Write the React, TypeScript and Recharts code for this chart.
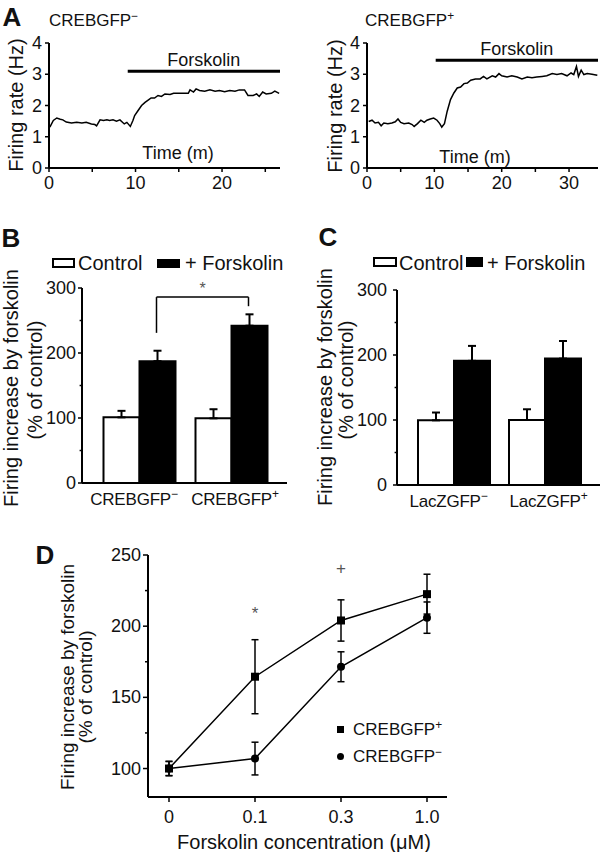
import React from "react";
import {
  Bar,
  BarChart,
  ErrorBar,
  Line,
  LineChart,
  ReferenceDot,
  ReferenceLine,
  XAxis,
  YAxis,
} from "recharts";

// ---- Panel A: firing-rate traces (time in min, rate in Hz)
const timeMinus = [0.1, 0.5, 0.9, 1.3, 1.6, 2.0, 2.6, 3.2, 3.8, 4.3, 4.9, 5.3, 5.5, 5.9, 6.3, 6.7, 7.0, 7.4, 7.8, 8.2, 8.7, 9.0, 9.4, 9.7, 9.9, 10.3, 10.7, 11.1, 11.5, 11.8, 12.2, 12.6, 13.0, 13.4, 14.0, 14.4, 14.9, 15.5, 16.1, 16.3, 16.7, 17.0, 17.4, 18.0, 18.6, 19.2, 19.7, 20.3, 20.9, 21.5, 22.0, 22.6, 23.0, 23.6, 24.0, 24.3, 24.7, 25.1, 25.7, 26.1, 26.6];
const rateMinus = [1.31, 1.52, 1.6, 1.56, 1.54, 1.47, 1.44, 1.46, 1.44, 1.46, 1.41, 1.39, 1.35, 1.54, 1.52, 1.54, 1.52, 1.54, 1.5, 1.54, 1.41, 1.46, 1.33, 1.52, 1.68, 1.84, 2.0, 2.1, 2.18, 2.24, 2.24, 2.32, 2.29, 2.37, 2.35, 2.39, 2.39, 2.39, 2.39, 2.5, 2.43, 2.53, 2.48, 2.46, 2.5, 2.46, 2.48, 2.44, 2.48, 2.46, 2.5, 2.5, 2.32, 2.32, 2.37, 2.29, 2.43, 2.37, 2.39, 2.46, 2.39];
const timePlus = [0.25, 0.75, 1.2, 1.7, 2.1, 2.5, 3.1, 3.7, 4.2, 4.6, 5.0, 5.5, 6.2, 6.7, 7.0, 7.5, 8.0, 8.5, 8.9, 9.4, 9.9, 10.4, 10.8, 11.1, 11.5, 11.9, 12.4, 12.9, 13.4, 13.9, 14.4, 14.9, 15.4, 16.1, 16.8, 17.3, 17.8, 18.6, 19.1, 19.6, 20.0, 20.8, 21.5, 22.3, 23.0, 23.8, 24.5, 25.2, 26.0, 26.7, 27.5, 28.2, 28.9, 29.7, 30.3, 30.7, 31.1, 31.4, 31.8, 32.2, 32.7, 33.4, 34.2];
const ratePlus = [1.49, 1.53, 1.44, 1.46, 1.35, 1.44, 1.42, 1.44, 1.48, 1.57, 1.46, 1.42, 1.44, 1.39, 1.33, 1.42, 1.53, 1.46, 1.53, 1.57, 1.6, 1.53, 1.42, 1.31, 1.42, 1.81, 2.19, 2.4, 2.56, 2.59, 2.7, 2.72, 2.81, 2.85, 2.85, 2.93, 2.85, 2.95, 2.91, 3.02, 2.95, 2.91, 2.95, 2.91, 2.85, 2.91, 2.89, 2.91, 2.93, 2.95, 3.02, 2.99, 3.02, 2.95, 3.04, 2.99, 3.25, 2.93, 3.13, 2.99, 3.02, 3.0, 2.97];
const forskolinMinus = { start: 9.1, end: 26.7, level: 3.1 };
const forskolinPlus = { start: 10.2, end: 34.3, level: 3.45 };

// ---- Panel B: CREB groups (% of control)
const crebNames = ["CREBGFP−", "CREBGFP+"];
const crebControl = [101, 99.5];
const crebControlSem = [10, 14];
const crebForsk = [187.5, 242];
const crebForskSem = [16, 17.5];
const crebBracket = { top: 286, leftLeg: 231, rightLeg: 272, star: 300 };

// ---- Panel C: LacZ groups
const laczNames = ["LacZGFP−", "LacZGFP+"];
const laczControl = [99.5, 100];
const laczControlSem = [12, 16.5];
const laczForsk = [191, 194.5];
const laczForskSem = [23, 27];

// ---- Panel D: dose response
const concLabels = ["0", "0.1", "0.3", "1.0"];
const plusMean = [100, 164.5, 204, 222.5];
const plusSem = [5, 26, 14.5, 14];
const minusMean = [100, 107, 171.5, 206];
const minusSem = [5, 11.5, 10.5, 11];
const doseMarks = [
  { c: "0.1", y: 209, mark: "*" },
  { c: "0.3", y: 241, mark: "+" },
];

const FONT = '"Liberation Sans", Arial, Helvetica, sans-serif';
const AX = { stroke: "#000", strokeWidth: 2 };

const traceMinus = timeMinus.map((t, i) => ({ t, f: rateMinus[i] }));
const tracePlus = timePlus.map((t, i) => ({ t, f: ratePlus[i] }));

const groupRows = (names: string[], c: number[], cs: number[], f: number[], fs: number[]) =>
  names.map((name, i) => ({
    name,
    ctrl: c[i],
    ctrlErr: [0, cs[i]],
    forsk: f[i],
    forskErr: [0, fs[i]],
  }));

const crebRows = groupRows(crebNames, crebControl, crebControlSem, crebForsk, crebForskSem);
const laczRows = groupRows(laczNames, laczControl, laczControlSem, laczForsk, laczForskSem);

const doseRows = concLabels.map((c, i) => ({
  c,
  plus: plusMean[i],
  plusErr: plusSem[i],
  minus: minusMean[i],
  minusErr: minusSem[i],
}));

function yTick(every: number, len: number, gap: number, size: number) {
  return (p: any) => {
    const v = Number(p.payload.value);
    const major = Math.abs(v / every - Math.round(v / every)) < 1e-6;
    return (
      <g key={`y${v}`}>
        <line x1={p.x} x2={p.x - (major ? len : len * 0.6)} y1={p.y} y2={p.y} stroke="#000" strokeWidth={1.5} />
        {major ? (
          <text x={p.x - len - gap} y={p.y} textAnchor="end" dominantBaseline="central" fontSize={size} fill="#111">
            {v}
          </text>
        ) : null}
      </g>
    );
  };
}

function xTickNum(every: number) {
  return (p: any) => {
    const v = Number(p.payload.value);
    const major = v % every === 0;
    return (
      <g key={`x${v}`}>
        <line x1={p.x} x2={p.x} y1={p.y} y2={p.y + 4} stroke="#000" strokeWidth={1.5} />
        {major ? (
          <text x={p.x} y={p.y + 15} textAnchor="middle" dominantBaseline="central" fontSize={18} fill="#111">
            {v}
          </text>
        ) : null}
      </g>
    );
  };
}

function catTick(p: any) {
  const s = String(p.payload.value);
  const first = p.index === 0;
  return (
    <text
      key={s}
      x={p.x + (first ? -5 : 4)}
      y={p.y + 22}
      textAnchor="middle"
      fontSize={17}
      letterSpacing={-0.2}
      fill="#111"
    >
      {s.slice(0, -1)}
      <tspan dy={-7} fontSize={12}>
        {s.slice(-1)}
      </tspan>
    </text>
  );
}

function doseTick(p: any) {
  return (
    <g key={p.payload.value}>
      <line x1={p.x} x2={p.x} y1={p.y} y2={p.y + 5} stroke="#000" strokeWidth={1.5} />
      <text x={p.x} y={p.y + 20} textAnchor="middle" dominantBaseline="central" fontSize={18} fill="#111">
        {p.payload.value}
      </text>
    </g>
  );
}

const squareDot = (p: any) => (
  <rect key={`sq${p.index}`} x={p.cx - 4} y={p.cy - 4} width={8} height={8} fill="#000" />
);

type TxtProps = {
  x: number;
  y: number;
  size?: number;
  rot?: number;
  bold?: boolean;
  anchor?: "start" | "middle";
  color?: string;
  children: React.ReactNode;
};

function Txt({ x, y, size = 18, rot = 0, bold = false, anchor = "middle", color = "#111", children }: TxtProps) {
  const tx = anchor === "start" ? "0" : "-50%";
  return (
    <div
      style={{
        position: "absolute",
        left: x,
        top: y,
        transform: `translate(${tx},-50%) rotate(${rot}deg)`,
        fontSize: size,
        fontWeight: bold ? 700 : 400,
        lineHeight: 1,
        whiteSpace: "nowrap",
        color,
      }}
    >
      {children}
    </div>
  );
}

const Sup = ({ children }: { children: React.ReactNode }) => (
  <span style={{ fontSize: "0.7em", position: "relative", top: "-0.5em" }}>{children}</span>
);

function Box({ x, y, w, h, fill }: { x: number; y: number; w: number; h: number; fill: string }) {
  return (
    <div
      style={{
        position: "absolute",
        left: x,
        top: y,
        width: w,
        height: h,
        boxSizing: "border-box",
        border: "2px solid #000",
        background: fill,
      }}
    />
  );
}

function TraceChart({
  data,
  width,
  yWidth,
  right,
  xMax,
  xTicks,
  fk,
}: {
  data: { t: number; f: number }[];
  width: number;
  yWidth: number;
  right: number;
  xMax: number;
  xTicks: number[];
  fk: { start: number; end: number; level: number };
}) {
  return (
    <LineChart width={width} height={200} data={data} margin={{ top: 43, right, bottom: 0, left: 0 }}>
      <XAxis
        type="number"
        dataKey="t"
        domain={[0, xMax]}
        ticks={xTicks}
        interval={0}
        height={32}
        axisLine={AX}
        tickLine={false}
        tickSize={0}
        tickMargin={0}
        tick={xTickNum(10)}
        allowDataOverflow
      />
      <YAxis
        type="number"
        domain={[0, 4]}
        ticks={[0, 1, 2, 3, 4]}
        interval={0}
        width={yWidth}
        axisLine={AX}
        tickLine={false}
        tickSize={0}
        tickMargin={0}
        tick={yTick(1, 4, 3, 18)}
      />
      <ReferenceLine
        segment={[
          { x: fk.start, y: fk.level },
          { x: fk.end, y: fk.level },
        ]}
        stroke="#000"
        strokeWidth={3}
        ifOverflow="visible"
        label={{ value: "Forskolin", position: "top", fontSize: 18, fill: "#111" }}
      />
      <Line type="linear" dataKey="f" stroke="#000" strokeWidth={1.5} dot={false} isAnimationActive={false} />
    </LineChart>
  );
}

function GroupChart({
  rows,
  width,
  top,
  yWidth,
  right,
  xHeight,
  gap,
  bracket,
}: {
  rows: any[];
  width: number;
  top: number;
  yWidth: number;
  right: number;
  xHeight: number;
  gap: number;
  bracket?: { top: number; leftLeg: number; rightLeg: number; star: number };
}) {
  const pad = { left: 11, right: 10 };
  const plotW = width - yWidth - right;
  const band = (plotW - pad.left - pad.right) / rows.length;
  const barW = Math.floor((band - 2 * gap) / 2);
  const off = barW / 2 / band; // forskolin bar centre, in band units
  // numeric twin of the category axis: integer k sits on the k-th band centre
  const numPad = { left: pad.left + band / 2, right: pad.right + band / 2 };
  return (
    <BarChart
      width={width}
      height={330}
      data={rows}
      margin={{ top, right, bottom: 0, left: 0 }}
      barCategoryGap={gap}
      barGap={0}
    >
      <XAxis
        dataKey="name"
        padding={pad}
        height={xHeight}
        axisLine={AX}
        tickLine={false}
        tickSize={0}
        tickMargin={0}
        interval={0}
        tick={catTick}
      />
      <XAxis xAxisId="n" type="number" domain={[0, rows.length - 1]} padding={numPad} hide allowDataOverflow />
      <YAxis
        type="number"
        domain={[0, 300]}
        ticks={[0, 50, 100, 150, 200, 250, 300]}
        interval={0}
        width={yWidth}
        axisLine={AX}
        tickLine={false}
        tickSize={0}
        tickMargin={0}
        tick={yTick(100, 4, yWidth > 90 ? 6 : 2, 18)}
      />
      <Bar dataKey="ctrl" fill="#fff" stroke="#000" strokeWidth={2} isAnimationActive={false}>
        <ErrorBar dataKey="ctrlErr" width={4} stroke="#000" strokeWidth={2} />
      </Bar>
      <Bar dataKey="forsk" fill="#000" stroke="#000" strokeWidth={2} isAnimationActive={false}>
        <ErrorBar dataKey="forskErr" width={4} stroke="#000" strokeWidth={2} />
      </Bar>
      {bracket ? (
        <ReferenceLine
          xAxisId="n"
          segment={[
            { x: off, y: bracket.leftLeg },
            { x: off, y: bracket.top },
          ]}
          stroke="#000"
          strokeWidth={1.5}
          ifOverflow="visible"
        />
      ) : null}
      {bracket ? (
        <ReferenceLine
          xAxisId="n"
          segment={[
            { x: off, y: bracket.top },
            { x: 1 + off, y: bracket.top },
          ]}
          stroke="#000"
          strokeWidth={1.5}
          ifOverflow="visible"
        />
      ) : null}
      {bracket ? (
        <ReferenceLine
          xAxisId="n"
          segment={[
            { x: 1 + off, y: bracket.top },
            { x: 1 + off, y: bracket.rightLeg },
          ]}
          stroke="#000"
          strokeWidth={1.5}
          ifOverflow="visible"
        />
      ) : null}
      {bracket ? (
        <ReferenceDot
          xAxisId="n"
          x={0.5 + off}
          y={bracket.star}
          r={0}
          fill="none"
          stroke="none"
          ifOverflow="visible"
          label={{ value: "*", position: "center", fontSize: 16, fill: "#555" }}
        />
      ) : null}
    </BarChart>
  );
}

export default function App() {
  return (
    <div
      style={{
        position: "absolute",
        left: 0,
        top: 0,
        width: 602,
        height: 852,
        background: "#fff",
        overflow: "hidden",
        fontFamily: FONT,
        color: "#111",
      }}
    >
      {/* Panel A */}
      <div style={{ position: "absolute", left: 0, top: 0 }}>
        <TraceChart
          data={traceMinus}
          width={300}
          yWidth={49}
          right={20}
          xMax={forskolinMinus.end}
          xTicks={[0, 5, 10, 15, 20, 25]}
          fk={forskolinMinus}
        />
      </div>
      <div style={{ position: "absolute", left: 300, top: 0 }}>
        <TraceChart
          data={tracePlus}
          width={302}
          yWidth={67}
          right={4}
          xMax={forskolinPlus.end}
          xTicks={[0, 5, 10, 15, 20, 25, 30]}
          fk={forskolinPlus}
        />
      </div>
      <Txt x={12} y={17} size={26} bold>
        A
      </Txt>
      <Txt x={49} y={20} size={17} anchor="start">
        CREBGFP<Sup>−</Sup>
      </Txt>
      <Txt x={365} y={20} size={17} anchor="start">
        CREBGFP<Sup>+</Sup>
      </Txt>
      <Txt x={16} y={105} size={20} rot={-90}>
        Firing rate (Hz)
      </Txt>
      <Txt x={335} y={106} size={20} rot={-90}>
        Firing rate (Hz)
      </Txt>
      <Txt x={178} y={153} size={18}>
        Time (m)
      </Txt>
      <Txt x={475} y={157} size={18}>
        Time (m)
      </Txt>

      {/* Panel B */}
      <div style={{ position: "absolute", left: 0, top: 200 }}>
        <GroupChart rows={crebRows} width={300} top={88} yWidth={82} right={13} xHeight={47} gap={10.5} bracket={crebBracket} />
      </div>
      <Txt x={11} y={238} size={26} bold>
        B
      </Txt>
      <Box x={52} y={258} w={23} h={10} fill="#fff" />
      <Txt x={78} y={263} size={20} anchor="start">
        Control
      </Txt>
      <Box x={157} y={259} w={23} h={9} fill="#000" />
      <Txt x={185} y={263} size={20} anchor="start">
        + Forskolin
      </Txt>
      <Txt x={11} y={388} size={20} rot={-90}>
        Firing increase by forskolin
      </Txt>
      <Txt x={35} y={380} size={20} rot={-90}>
        (% of control)
      </Txt>

      {/* Panel C */}
      <div style={{ position: "absolute", left: 300, top: 200 }}>
        <GroupChart rows={laczRows} width={302} top={90} yWidth={97} right={2} xHeight={45} gap={10} />
      </div>
      <Txt x={328} y={237} size={26} bold>
        C
      </Txt>
      <Box x={373} y={257} w={24} h={10} fill="#fff" />
      <Txt x={399} y={263} size={20} anchor="start">
        Control
      </Txt>
      <Box x={466} y={257} w={17} h={10} fill="#000" />
      <Txt x={487} y={263} size={20} anchor="start">
        + Forskolin
      </Txt>
      <Txt x={325} y={387} size={20} rot={-90}>
        Firing increase by forskolin
      </Txt>
      <Txt x={346} y={380} size={20} rot={-90}>
        (% of control)
      </Txt>

      {/* Panel D */}
      <div style={{ position: "absolute", left: 0, top: 530 }}>
        <LineChart width={480} height={322} data={doseRows} margin={{ top: 25, right: 33, bottom: 0, left: 0 }}>
          <XAxis
            dataKey="c"
            padding={{ left: 21, right: 20 }}
            height={55}
            axisLine={AX}
            tickLine={false}
            tickSize={0}
            tickMargin={0}
            interval={0}
            tick={doseTick}
          />
          <YAxis
            type="number"
            domain={[80, 250]}
            ticks={[100, 125, 150, 175, 200, 225, 250]}
            interval={0}
            width={148}
            axisLine={AX}
            tickLine={false}
            tickSize={0}
            tickMargin={0}
            tick={yTick(50, 5, 2, 18)}
            allowDataOverflow
          />
          <Line type="linear" dataKey="plus" stroke="#000" strokeWidth={1.5} dot={squareDot} isAnimationActive={false}>
            <ErrorBar dataKey="plusErr" width={3.5} stroke="#000" strokeWidth={1.5} />
          </Line>
          <Line
            type="linear"
            dataKey="minus"
            stroke="#000"
            strokeWidth={1.5}
            dot={{ r: 4, fill: "#000", stroke: "#000", strokeWidth: 0 }}
            isAnimationActive={false}
          >
            <ErrorBar dataKey="minusErr" width={3.5} stroke="#000" strokeWidth={1.5} />
          </Line>
          {doseMarks.map((m) => (
            <ReferenceDot
              key={m.c}
              x={m.c}
              y={m.y}
              r={0}
              fill="none"
              stroke="none"
              ifOverflow="visible"
              label={{ value: m.mark, position: "center", fontSize: 17, fill: "#555" }}
            />
          ))}
        </LineChart>
      </div>
      <Txt x={45} y={555} size={26} bold>
        D
      </Txt>
      <Txt x={67} y={677} size={19} rot={-90}>
        Firing increase by forskolin
      </Txt>
      <Txt x={85} y={687} size={19} rot={-90}>
        (% of control)
      </Txt>
      <Txt x={304} y={842} size={20}>
        Forskolin concentration (μM)
      </Txt>
      <div style={{ position: "absolute", left: 337, top: 726, width: 7, height: 7, background: "#000" }} />
      <Txt x={353} y={729} size={17} anchor="start">
        CREBGFP<Sup>+</Sup>
      </Txt>
      <div
        style={{ position: "absolute", left: 336.5, top: 752.5, width: 7, height: 7, borderRadius: "50%", background: "#000" }}
      />
      <Txt x={353} y={756} size={17} anchor="start">
        CREBGFP<Sup>−</Sup>
      </Txt>
    </div>
  );
}
